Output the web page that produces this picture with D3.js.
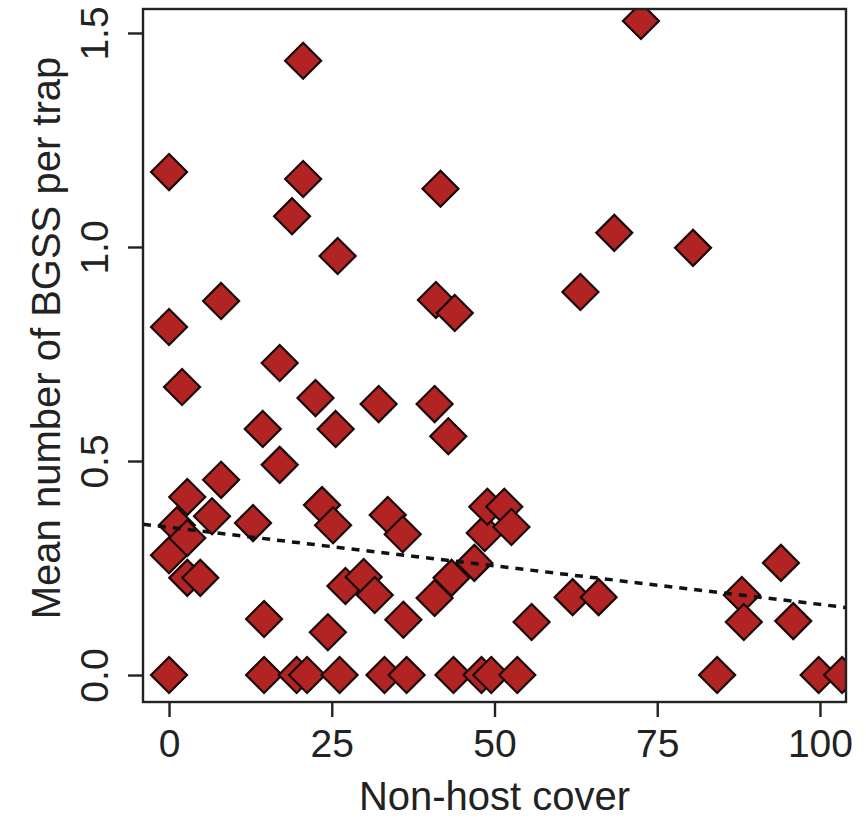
<!DOCTYPE html>
<html>
<head>
<meta charset="utf-8">
<script src="https://cdn.jsdelivr.net/npm/d3@7/dist/d3.min.js"></script>
<style>
  html, body { margin: 0; padding: 0; background: #fff; }
  svg { display: block; }
  text { font-family: "Liberation Sans", Arial, sans-serif; fill: #222; }
</style>
</head>
<body>
<svg id="chart" width="866" height="819"></svg>
<script>
// Non-host cover (%) for each trap site
const cover = [
  0, 0, 2.0, 0, 1.2, 2.8, 2.8, 6.6, 2.8, 4.8,
  8.0, 8.0, 12.9, 14.4, 14.6, 17.0, 17.0, 18.9, 20.6, 20.6,
  22.5, 23.5, 25.2, 25.6, 25.9, 24.4, 27.1, 29.9, 31.6, 32.2,
  33.6, 35.9, 36.0, 40.8, 41.0, 41.7, 42.9, 43.9, 40.8, 43.4,
  46.9, 48.5, 48.9, 51.5, 52.6, 55.7, 62.0, 66.0, 63.2, 68.4,
  72.5, 80.5, 88.0, 88.3, 94.0, 95.9,
  0, 14.6, 19.6, 21.2, 26.2, 33.1, 36.5, 43.7, 48.0, 49.5,
  53.5, 84.2, 99.8, 103.4
];
// Mean number of BGSS caught per trap at each site
const bgss = [
  1.175, 0.813, 0.673, 0.280, 0.350, 0.320, 0.416, 0.371, 0.227, 0.227,
  0.456, 0.874, 0.355, 0.575, 0.131, 0.729, 0.491, 1.072, 1.435, 1.159,
  0.647, 0.397, 0.350, 0.575, 0.979, 0.100, 0.208, 0.229, 0.187, 0.633,
  0.374, 0.329, 0.129, 0.633, 0.876, 1.136, 0.558, 0.846, 0.180, 0.227,
  0.262, 0.332, 0.393, 0.393, 0.346, 0.124, 0.182, 0.182, 0.895, 1.033,
  1.528, 0.998, 0.187, 0.124, 0.262, 0.126,
  0, 0, 0, 0, 0, 0, 0, 0, 0, 0,
  0, 0, 0, 0
];
// Fitted linear trend: bgss = intercept + slope * cover
const fitIntercept = 0.345;
const fitSlope = -0.0018;

const xTicks = [0, 25, 50, 75, 100];
const yTicks = [0, 0.5, 1.0, 1.5];
const xDomain = [-4, 104];
const yDomain = [-0.063, 1.556];

const xTitle = "Non-host cover";
const yTitle = "Mean number of BGSS per trap";

const points = cover.map((c, i) => ({ x: c, y: bgss[i] }));

const svg = d3.select("#chart");
const plotLeft = 143, plotRight = 846, plotTop = 9, plotBottom = 702;
const tickFont = 39;
const titleFont = 40;

const x = d3.scaleLinear().domain(xDomain).range([plotLeft, plotRight]);
const y = d3.scaleLinear().domain(yDomain).range([plotBottom, plotTop]);

svg.append("rect").attr("width", 866).attr("height", 819).attr("fill", "#fff");

svg.append("defs").append("clipPath").attr("id", "plotClip")
  .append("rect")
  .attr("x", plotLeft).attr("y", plotTop)
  .attr("width", plotRight - plotLeft).attr("height", plotBottom - plotTop);

const plot = svg.append("g").attr("clip-path", "url(#plotClip)");

// Diamond markers
const half = 18;
const diamond = `M0,${-half}L${half},0L0,${half}L${-half},0Z`;
plot.selectAll("path.pt")
  .data(points)
  .join("path")
  .attr("class", "pt")
  .attr("d", diamond)
  .attr("transform", d => `translate(${x(d.x)},${y(d.y)})`)
  .attr("fill", "#b22424")
  .attr("stroke", "#1a0808")
  .attr("stroke-width", 2.2);

// Dashed regression line across the plotting region
const line = d3.line().x(d => x(d[0])).y(d => y(d[1]));
plot.append("path")
  .attr("d", line(xDomain.map(v => [v, fitIntercept + fitSlope * v])))
  .attr("fill", "none")
  .attr("stroke", "#111")
  .attr("stroke-width", 3.5)
  .attr("stroke-dasharray", "8,7");

// Plot frame
svg.append("rect")
  .attr("x", plotLeft).attr("y", plotTop)
  .attr("width", plotRight - plotLeft).attr("height", plotBottom - plotTop)
  .attr("fill", "none").attr("stroke", "#222").attr("stroke-width", 2.4);

// X axis
const xAxis = svg.append("g")
  .attr("transform", `translate(0,${plotBottom})`)
  .call(d3.axisBottom(x).tickValues(xTicks).tickSize(15).tickFormat(d3.format("d")));
xAxis.select(".domain").remove();
xAxis.selectAll(".tick line").attr("stroke", "#222").attr("stroke-width", 2.4);
xAxis.selectAll(".tick text")
  .attr("font-size", tickFont)
  .attr("font-family", "Liberation Sans, Arial, sans-serif")
  .attr("fill", "#222")
  .attr("dy", null)
  .attr("y", 55);

// Y axis with labels rotated parallel to the axis
const yAxis = svg.append("g")
  .attr("transform", `translate(${plotLeft},0)`)
  .call(d3.axisLeft(y).tickValues(yTicks).tickSize(15).tickFormat(d3.format(".1f")));
yAxis.select(".domain").remove();
yAxis.selectAll(".tick line").attr("stroke", "#222").attr("stroke-width", 2.4);
yAxis.selectAll(".tick text")
  .attr("font-size", tickFont)
  .attr("font-family", "Liberation Sans, Arial, sans-serif")
  .attr("fill", "#222")
  .attr("x", null).attr("dy", null)
  .attr("text-anchor", "middle")
  .attr("transform", "translate(-35,0) rotate(-90)");

// Axis titles
svg.append("text")
  .attr("x", (plotLeft + plotRight) / 2)
  .attr("y", 810)
  .attr("text-anchor", "middle")
  .attr("font-size", titleFont)
  .text(xTitle);

svg.append("text")
  .attr("transform", `translate(60,338) rotate(-90)`)
  .attr("text-anchor", "middle")
  .attr("font-size", titleFont)
  .text(yTitle);
</script>
</body>
</html>
